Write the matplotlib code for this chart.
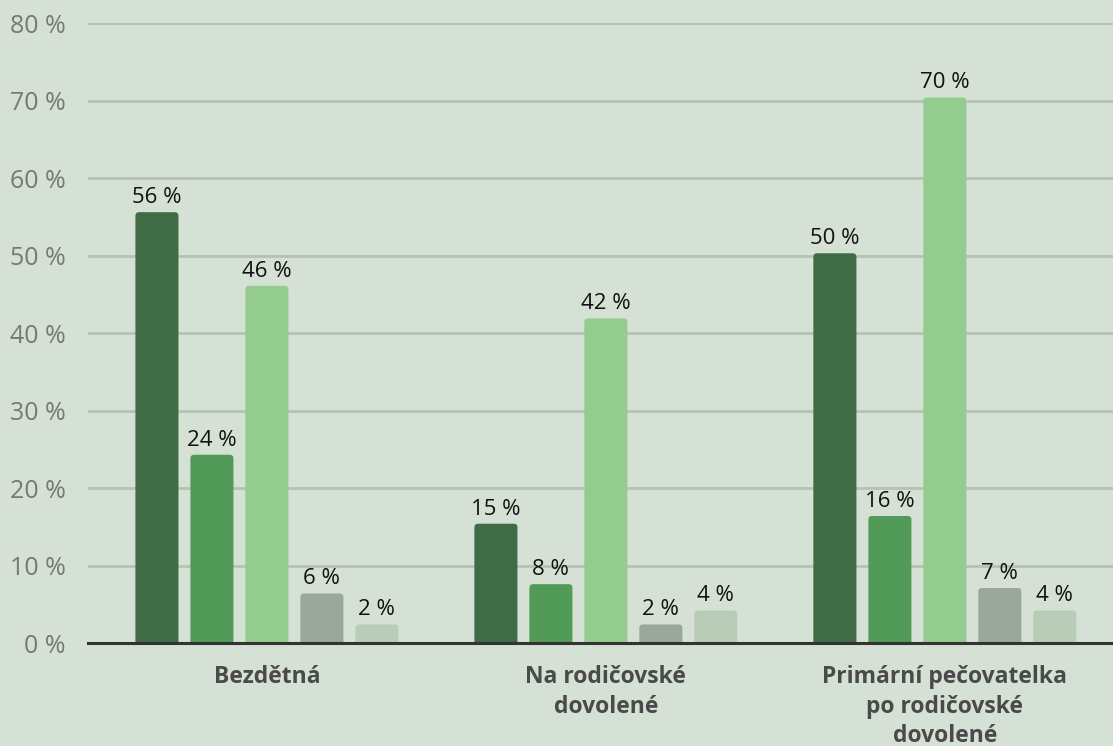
import matplotlib
matplotlib.use("Agg")
from matplotlib import pyplot as plt
from matplotlib.patches import FancyBboxPatch
import numpy as np

kategorie = ['Bezdětná', 'Na rodičovské\ndovolené', 'Primární pečovatelka\npo rodičovské\ndovolené']
serie_1 = [55.6, 15.4, 50.3]
serie_2 = [24.3, 7.6, 16.4]
serie_3 = [46.1, 41.9, 70.4]
serie_4 = [6.4, 2.4, 7.1]
serie_5 = [2.4, 4.2, 4.2]
barvy = ['#3f6b45', '#519a58', '#94cb8f', '#9ba79b', '#b9ccb8']
osa_y = [0, 10, 20, 30, 40, 50, 60, 70, 80]

pozadi = '#d6e1d5'
plt.rcParams['font.family'] = ['Open Sans', 'DejaVu Sans']

fig = plt.figure(figsize=(11.13, 7.46), dpi=100, facecolor=pozadi)
ax = fig.add_axes([0.079, 0.138, 0.921, 0.831])
ax.set_facecolor(pozadi)

x = np.arange(len(kategorie))
krok = 0.1622
sirka = 0.127
for i, (hodnoty, barva) in enumerate(zip([serie_1, serie_2, serie_3, serie_4, serie_5], barvy)):
    pozice = x + (i - 2) * krok
    sloupce = ax.bar(pozice, hodnoty, width=sirka, color=barva, zorder=3)
    for s, h in zip(sloupce, hodnoty):
        # zaoblene rohy nahore, spodek schovany pod osou
        s.set_visible(False)
        p = FancyBboxPatch((s.get_x(), -2), s.get_width(), s.get_height() + 2,
                           boxstyle='round,pad=0,rounding_size=0.011', mutation_aspect=43,
                           facecolor=barva, edgecolor='none', zorder=3)
        ax.add_patch(p)
        ax.annotate(f'{round(h)} %', (s.get_x() + s.get_width() / 2, h),
                    xytext=(0, 3), textcoords='offset points',
                    ha='center', va='bottom', fontsize=16, color='#111111', zorder=4)

ax.set_ylim(0, 80)
ax.set_xlim(-0.528, 2.496)
ax.set_yticks(osa_y)
ax.set_yticklabels([f'{v} %' for v in osa_y])
ax.yaxis.grid(True, color='#b6c2b4', linewidth=2, zorder=0)
ax.set_xticks(x)
ax.set_xticklabels(kategorie, fontsize=16.5, fontweight='bold', color='#4a4a4a', linespacing=1.3)
ax.tick_params(axis='y', length=0, labelsize=18, labelcolor='#737b72', pad=16)
ax.tick_params(axis='x', length=0, pad=16)
for strana in ['top', 'right', 'left']:
    ax.spines[strana].set_visible(False)
ax.spines['bottom'].set_color('#333333')
ax.spines['bottom'].set_linewidth(2.2)
ax.spines['bottom'].set_zorder(5)

fig.savefig('out.png', dpi=100, facecolor=pozadi)
